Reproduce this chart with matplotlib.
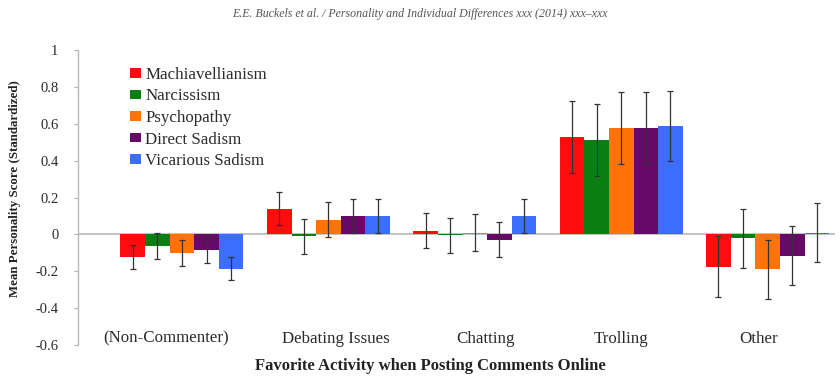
import numpy as np
import matplotlib
matplotlib.use("Agg")
import matplotlib.pyplot as plt
from matplotlib.patches import Patch

categories = ["(Non-Commenter)", "Debating Issues", "Chatting", "Trolling", "Other"]
traits = ["Machiavellianism", "Narcissism", "Psychopathy", "Direct Sadism", "Vicarious Sadism"]
colors = ["#ff0d0d", "#0b7f12", "#ff7308", "#650a66", "#3b6dff"]

# Mean standardized scores per trait, one value per category
machiavellianism = [-0.12, 0.14, 0.02, 0.53, -0.175]
narcissism = [-0.065, -0.01, -0.005, 0.51, -0.02]
psychopathy = [-0.10, 0.08, 0.01, 0.575, -0.19]
direct_sadism = [-0.085, 0.10, -0.03, 0.58, -0.115]
vicarious_sadism = [-0.185, 0.10, 0.10, 0.59, 0.01]

# Error bar half-widths
machiavellianism_err = [0.065, 0.09, 0.095, 0.195, 0.165]
narcissism_err = [0.07, 0.095, 0.095, 0.195, 0.16]
psychopathy_err = [0.07, 0.095, 0.10, 0.195, 0.16]
direct_sadism_err = [0.07, 0.09, 0.095, 0.195, 0.16]
vicarious_sadism_err = [0.065, 0.09, 0.09, 0.19, 0.16]

values = [machiavellianism, narcissism, psychopathy, direct_sadism, vicarious_sadism]
errors = [machiavellianism_err, narcissism_err, psychopathy_err, direct_sadism_err, vicarious_sadism_err]

yticks = [1, 0.8, 0.6, 0.4, 0.2, 0, -0.2, -0.4, -0.6]
ytick_labels = ["1", "0.8", "0.6", "0.4", "0.2", "0", "-0.2", "-0.4", "-0.6"]

plt.rcParams["font.family"] = ["Liberation Serif", "DejaVu Serif"]

fig = plt.figure(figsize=(8.4, 3.85), dpi=100)
ax = fig.add_axes([0.0929, 0.1039, 0.9012, 0.766])

x = np.arange(len(categories))
bar_w = 0.168
n = len(traits)
for i, (vals, errs, c, name) in enumerate(zip(values, errors, colors, traits)):
    offs = (i - (n - 1) / 2) * bar_w
    ax.bar(x + offs, vals, width=bar_w, color=c, edgecolor="none", zorder=2)
    ax.errorbar(x + offs, vals, yerr=errs, fmt="none", ecolor="#333333",
                elinewidth=0.9, capsize=2.2, capthick=0.9, zorder=3)

ax.axhline(0, color="#b8b8b8", lw=1.2, zorder=1)

ax.set_xlim(-0.71, 4.46)
ax.set_ylim(-0.6, 1.0)
ax.set_yticks(yticks)
ax.set_yticklabels(ytick_labels, fontsize=10.5, color="#2a2a2a")
ax.tick_params(axis="y", length=3, width=0.8, color="#b0b0b0", pad=11)
ax.set_xticks([])

for s in ["top", "right", "bottom"]:
    ax.spines[s].set_visible(False)
ax.spines["left"].set_color("#b8b8b8")
ax.spines["left"].set_linewidth(1.0)

# Category names sit just above the bottom of the value range
label_shift = [-0.11, 0.05, 0.07, 0.0, -0.06]
for xi, dx, lab in zip(x, label_shift, categories):
    ax.text(xi + dx, -0.565, lab, ha="center", va="center",
            fontsize=12.2, color="#2a2a2a")

ax.set_ylabel("Mean Personality Score (Standardized)", fontsize=9.3,
              fontweight="bold", color="#222222")
ax.yaxis.set_label_coords(-0.075, 0.53)

fig.text(0.512, 0.05, "Favorite Activity when Posting Comments Online",
         ha="center", va="center", fontsize=12, fontweight="bold", color="#222222")

fig.text(0.5, 0.963,
         "E.E. Buckels et al. / Personality and Individual Differences xxx (2014) xxx\u2013xxx",
         ha="center", va="center", fontsize=8.6, style="italic", color="#555555")

handles = [Patch(facecolor=c, edgecolor="none") for c in colors]
ax.legend(handles, traits, loc="upper left", bbox_to_anchor=(0.049, 0.995),
          frameon=False, fontsize=12.2, handlelength=0.65, handleheight=0.5,
          handletextpad=0.22, labelspacing=0.33, labelcolor="#2a2a2a")

fig.savefig("out.png", dpi=100)
